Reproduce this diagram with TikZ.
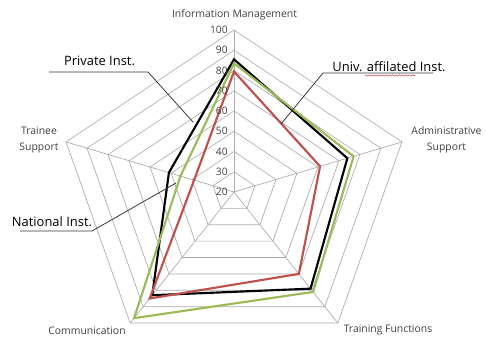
\documentclass[tikz,border=0pt]{standalone}
\usepackage{fontspec}
\setmainfont{Open Sans}
\usetikzlibrary{decorations.pathmorphing}
\definecolor{gridgray}{HTML}{ABABAB}
\definecolor{xlgreen}{HTML}{9BBB59}
\definecolor{xlred}{HTML}{C0504D}
\definecolor{leadgray}{HTML}{3A3A3A}
\definecolor{txtgray}{HTML}{404040}
\tikzset{
  grid line/.style={draw=gridgray, line width=0.5pt},
  series/.style={line width=1.6pt, line join=miter},
  leader/.style={draw=leadgray, line width=0.6pt},
  ticklabel/.style={font=\fontsize{7.7}{8}\selectfont, text=txtgray, anchor=east, inner sep=0pt},
  axislabel/.style={font=\fontsize{7.8}{12}\selectfont, text=txtgray, align=center, inner sep=0pt},
  callout/.style={font=\fontsize{9.7}{11}\selectfont, text=black, inner sep=0pt},
}
\newcommand\radarpt[3]{\coordinate (#1) at (#2:{(#3-20)*2.025});}
\begin{document}
\begin{tikzpicture}[x=0.75pt,y=-0.75pt]
\useasboundingbox (0,0) rectangle (486,337);
\fill[white] (0,0) rectangle (486,337);
\begin{scope}[shift={(234,192)}, xscale=1.09, yscale=-1]
  \foreach \v in {30,40,...,100} {
    \pgfmathsetmacro{\r}{(\v-20)*2.025}
    \draw[grid line] (90:\r) -- (18:\r) -- (-54:\r) -- (-126:\r) -- (162:\r) -- cycle;
  }
  \foreach \a in {90,18,-54,-126,162} \draw[grid line] (0,0) -- (\a:162);
  % Private Inst. (black)
  \radarpt{pIM}{90}{85.5}\radarpt{pAS}{18}{74}\radarpt{pTF}{-54}{79}\radarpt{pCO}{-126}{83}\radarpt{pTS}{162}{51}
  % Univ. affilated Inst. (red)
  \radarpt{uIM}{90}{79.5}\radarpt{uAS}{18}{61}\radarpt{uTF}{-54}{70}\radarpt{uCO}{-126}{85}\radarpt{uTS}{162}{39}
  % National Inst. (green)
  \radarpt{nIM}{90}{83.6}\radarpt{nAS}{18}{77}\radarpt{nTF}{-54}{81}\radarpt{nCO}{-126}{97}\radarpt{nTS}{162}{45.5}
\end{scope}
\draw[series, black] (pIM) -- (pAS) -- (pTF) -- (pCO) -- (pTS) -- cycle;
\draw[series, xlred] (uIM) -- (uAS) -- (uTF) -- (uCO) -- (uTS) -- cycle;
\draw[series, xlgreen] (nIM) -- (nAS) -- (nTF) -- (nCO) -- (nTS) -- cycle;
% tick labels
\foreach \v in {20,30,...,100} {
  \node[ticklabel] (t\v) at (228,{192-(\v-20)*2.025}) {\v};
}
% axis labels
\node[axislabel] (lIM) at (234.5,15) {Information Management};
\node[axislabel] (lAS) at (446.5,140) {Administrative\\Support};
\node[axislabel] (lTF) at (388,330) {Training Functions};
\node[axislabel] (lCO) at (87,331) {Communication};
\node[axislabel] (lTS) at (39,140) {Trainee\\Support};
% callouts
\node[callout] (cP) at (99.5,61) {Private Inst.};
\coordinate (pl0) at (49,72);
\coordinate (pl1) at (148,72);
\coordinate (pl2) at (193,122);
\draw[leader] (pl0) -- (pl1) -- (pl2);
\node[callout] (cU) at (389,67) {Univ. affilated Inst.};
\coordinate (ul0) at (433,73);
\coordinate (ul1) at (323,73);
\coordinate (ul2) at (281,124);
\draw[leader] (ul0) -- (ul1) -- (ul2);
\coordinate (sq0) at (365,75.5);
\coordinate (sq1) at (415,75.5);
\draw[xlred, line width=0.4pt, decorate, decoration={snake, amplitude=0.5pt, segment length=2.5pt}] (sq0) -- (sq1);
\node[callout] (cN) at (52,222) {National Inst.};
\coordinate (nl0) at (20,231);
\coordinate (nl1) at (92,231);
\coordinate (nl2) at (176,183);
\draw[leader] (nl0) -- (nl1) -- (nl2);
\end{tikzpicture}
\end{document}
